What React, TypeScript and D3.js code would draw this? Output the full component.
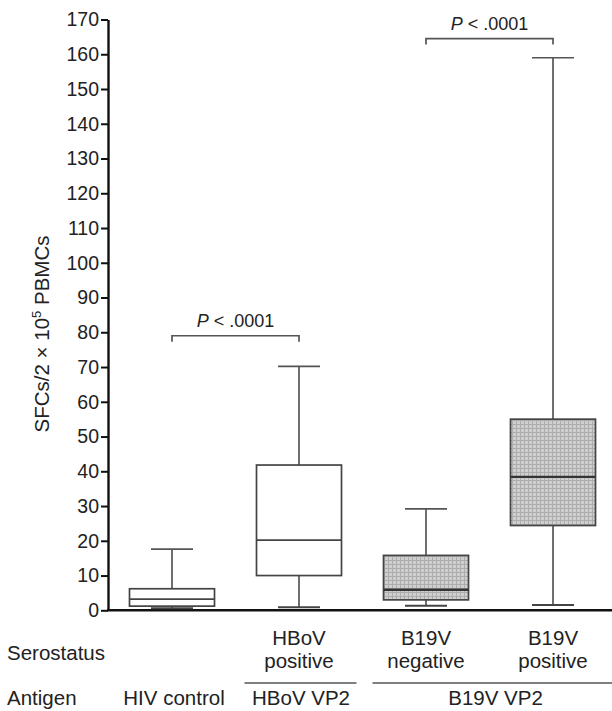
import { type RefObject, useEffect, useRef } from "react";
import * as d3 from "d3";

const groups = ["HIV control", "HBoV positive", "B19V negative", "B19V positive"];
const whiskerLow = [0.6, 0.9, 1.3, 1.5];
const q1 = [1.2, 10, 3.0, 24.4];
const medians = [3.2, 20.2, 5.9, 38.4];
const q3 = [6.2, 41.8, 15.8, 55];
const whiskerHigh = [17.6, 70.2, 29.2, 159];
const hatched = [false, false, true, true];

const yTickValues = [0, 10, 20, 30, 40, 50, 60, 70, 80, 90, 100, 110, 120, 130, 140, 150, 160, 170];

const serostatusLabels = [[], ["HBoV", "positive"], ["B19V", "negative"], ["B19V", "positive"]];
const antigenLabels = ["HIV control", "HBoV VP2", "B19V VP2"];
// which groups each antigen label spans
const antigenSpans = [[0, 0], [1, 1], [2, 3]];

const comparisons = [
  { from: 0, to: 1, level: 79, label: ".0001" },
  { from: 2, to: 3, level: 164.5, label: ".0001" },
];

const W = 612;
const H = 711;
const font = "Liberation Sans, Arial, sans-serif";

const drawChart = (svgRef: RefObject<SVGSVGElement>) => {
  const svg = d3.select(svgRef.current).attr("width", W).attr("height", H);

  const x = d3.scalePoint<string>().domain(groups).range([172, 553]);
  const y = d3.scaleLinear().domain([0, 170]).range([610.3, 19.5]);
  const boxW = 85;
  const capW = 42;

  const defs = svg.append("defs");
  const pat = defs
    .append("pattern")
    .attr("id", "hatch")
    .attr("patternUnits", "userSpaceOnUse")
    .attr("width", 4)
    .attr("height", 4);
  pat.append("rect").attr("width", 4).attr("height", 4).attr("fill", "#cfcfcf");
  pat.append("rect").attr("x", 0).attr("width", 1).attr("height", 4).attr("fill", "#adadad");
  pat.append("rect").attr("y", 0).attr("width", 4).attr("height", 1).attr("fill", "#adadad");

  // y axis
  const yAxis = svg
    .append("g")
    .attr("transform", "translate(108,0)")
    .call(d3.axisLeft(y).tickValues(yTickValues).tickSize(7).tickPadding(2).tickSizeOuter(0));
  yAxis.select(".domain").attr("stroke", "#111").attr("stroke-width", 2.4);
  yAxis.selectAll(".tick line").attr("stroke", "#111").attr("stroke-width", 2);
  yAxis
    .selectAll("text")
    .attr("font-family", font)
    .attr("font-size", 19.5)
    .attr("fill", "#222");

  // x axis line
  svg
    .append("line")
    .attr("x1", 107)
    .attr("x2", W)
    .attr("y1", y(0))
    .attr("y2", y(0))
    .attr("stroke", "#111")
    .attr("stroke-width", 2.6);

  // y label
  const yl = svg
    .append("text")
    .attr("transform", "translate(49,334) rotate(-90)")
    .attr("text-anchor", "middle")
    .attr("font-family", font)
    .attr("font-size", 20.5)
    .attr("fill", "#222");
  yl.append("tspan").text("SFCs/2 × 10");
  yl.append("tspan").attr("font-size", 13).attr("dy", -8).text("5");
  yl.append("tspan").attr("dy", 8).text(" PBMCs");

  // boxes
  const g = svg.append("g");
  groups.forEach((name, i) => {
    const cx = x(name)!;
    const stroke = "#444";
    g.append("line")
      .attr("x1", cx).attr("x2", cx)
      .attr("y1", y(whiskerHigh[i])).attr("y2", y(q3[i]))
      .attr("stroke", "#555").attr("stroke-width", 1.7);
    g.append("line")
      .attr("x1", cx).attr("x2", cx)
      .attr("y1", y(q1[i])).attr("y2", y(whiskerLow[i]))
      .attr("stroke", "#555").attr("stroke-width", 1.7);
    g.append("line")
      .attr("x1", cx - capW / 2).attr("x2", cx + capW / 2)
      .attr("y1", y(whiskerHigh[i])).attr("y2", y(whiskerHigh[i]))
      .attr("stroke", "#555").attr("stroke-width", 1.7);
    g.append("line")
      .attr("x1", cx - capW / 2).attr("x2", cx + capW / 2)
      .attr("y1", y(whiskerLow[i])).attr("y2", y(whiskerLow[i]))
      .attr("stroke", "#444").attr("stroke-width", 2);
    g.append("rect")
      .attr("x", cx - boxW / 2)
      .attr("y", y(q3[i]))
      .attr("width", boxW)
      .attr("height", y(q1[i]) - y(q3[i]))
      .attr("fill", hatched[i] ? "url(#hatch)" : "#fff")
      .attr("stroke", stroke)
      .attr("stroke-width", 1.7);
    g.append("line")
      .attr("x1", cx - boxW / 2).attr("x2", cx + boxW / 2)
      .attr("y1", y(medians[i])).attr("y2", y(medians[i]))
      .attr("stroke", hatched[i] ? "#333" : "#444")
      .attr("stroke-width", hatched[i] ? 2.4 : 1.7);
  });

  // significance brackets
  comparisons.forEach((c) => {
    const x1 = x(groups[c.from])!;
    const x2 = x(groups[c.to])!;
    const yy = y(c.level);
    svg
      .append("path")
      .attr("d", `M${x1},${yy + 6}V${yy}H${x2}V${yy + 6}`)
      .attr("fill", "none")
      .attr("stroke", "#555")
      .attr("stroke-width", 1.7);
    const t = svg
      .append("text")
      .attr("x", (x1 + x2) / 2)
      .attr("y", yy - 9)
      .attr("text-anchor", "middle")
      .attr("font-family", font)
      .attr("font-size", 18)
      .attr("fill", "#222");
    t.append("tspan").attr("font-style", "italic").text("P");
    t.append("tspan").text(" < " + c.label);
  });

  // bottom labels
  const lab = svg.append("g").attr("font-family", font).attr("font-size", 20.5).attr("fill", "#222");
  lab.append("text").attr("x", 7).attr("y", 660).text("Serostatus");
  lab.append("text").attr("x", 7).attr("y", 705).text("Antigen");
  serostatusLabels.forEach((lines, i) => {
    lines.forEach((s, k) => {
      lab
        .append("text")
        .attr("x", x(groups[i])!)
        .attr("y", 645 + k * 23)
        .attr("text-anchor", "middle")
        .text(s);
    });
  });
  antigenLabels.forEach((s, k) => {
    const [a, b] = antigenSpans[k];
    const xa = x(groups[a])!;
    const xb = x(groups[b])!;
    lab
      .append("text")
      .attr("x", (xa + xb) / 2 + (a === b ? 2 : 6))
      .attr("y", 705)
      .attr("text-anchor", "middle")
      .text(s);
    if (k > 0) {
      svg
        .append("line")
        .attr("x1", xa - boxW / 2 - 12 + (a === b ? 0 : 1))
        .attr("x2", a === b ? xb + boxW / 2 + 15 : W)
        .attr("y1", 683)
        .attr("y2", 683)
        .attr("stroke", "#555")
        .attr("stroke-width", 1.7);
    }
  });
};

const clearChart = (svgRef: RefObject<SVGSVGElement>) => {
  d3.select(svgRef.current).selectAll("*").remove();
};

const App = () => {
  const svgRef = useRef<SVGSVGElement>(null);

  useEffect(() => {
    drawChart(svgRef);
    return () => {
      clearChart(svgRef);
    };
  }, [svgRef]);

  return (
    <div style={{ position: "absolute", left: 0, top: 0, background: "#fff" }}>
      <svg ref={svgRef} style={{ display: "block" }}></svg>
    </div>
  );
};

export default App;
